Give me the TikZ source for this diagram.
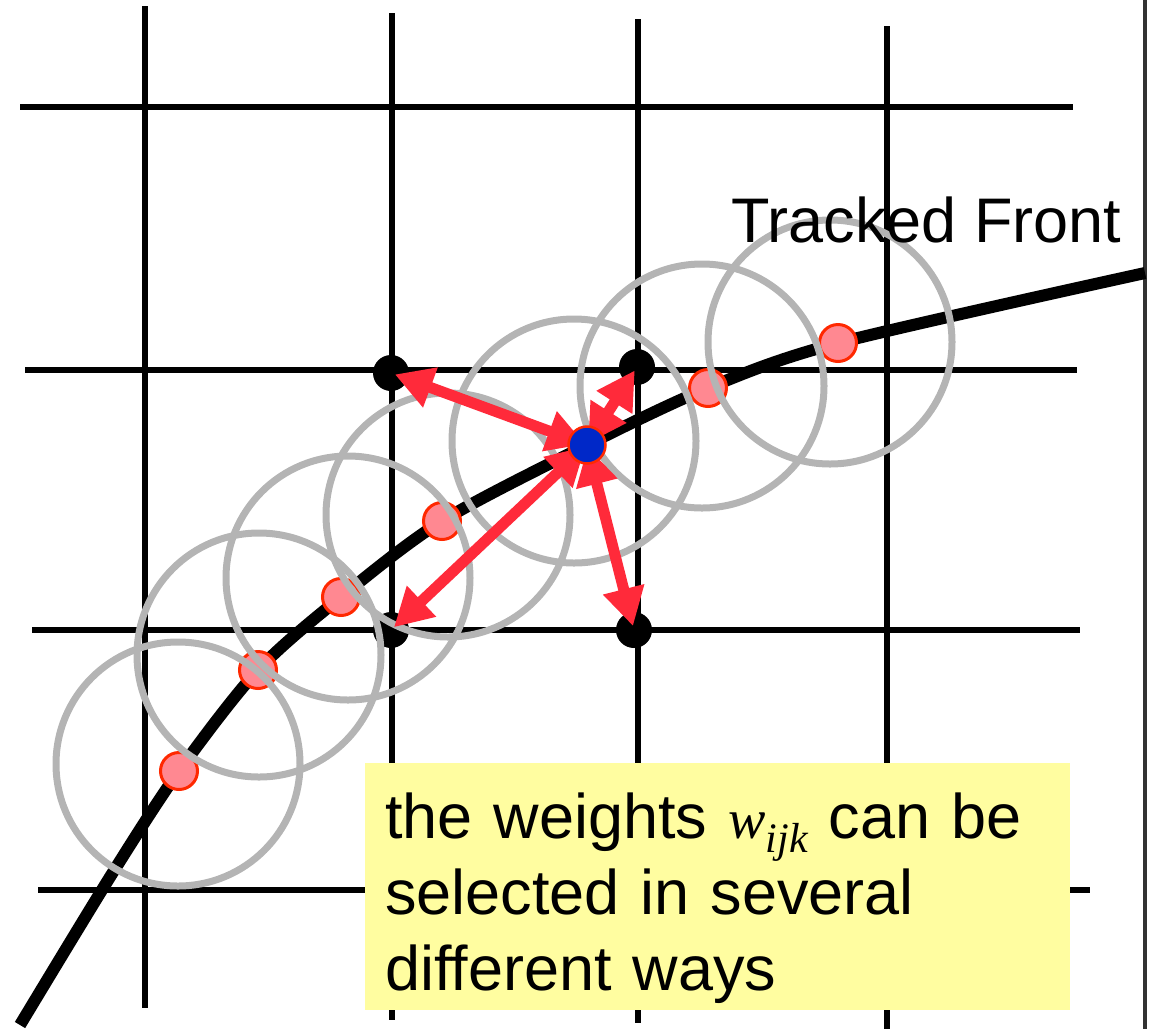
\documentclass[tikz,border=0pt]{standalone}
\usepackage{fontspec}
\setmainfont{Liberation Sans}
\newfontfamily\timesfont{Liberation Serif}
\usetikzlibrary{arrows.meta}

\definecolor{ringgray}{RGB}{180,180,180}
\definecolor{ptpink}{RGB}{255,136,145}
\definecolor{ptred}{RGB}{255,40,0}
\definecolor{arrred}{RGB}{255,42,58}
\definecolor{ptblue}{RGB}{0,40,200}
\definecolor{noteyellow}{RGB}{255,253,160}
\definecolor{edgegray}{RGB}{50,50,50}

\begin{document}
\begin{tikzpicture}[x=1pt,y=-1pt,
  gridline/.style={line width=6pt},
  gridpt/.style={circle,fill=black,inner sep=0pt,minimum size=36pt},
  frontpt/.style={circle,fill=ptpink,draw=ptred,line width=3pt,inner sep=0pt,minimum size=37pt},
  ring/.style={draw=ringgray,line width=7pt},
  weight/.style={draw=arrred,line width=11pt,shorten <=2pt,shorten >=4pt,
    {Triangle[length=38pt,width=40pt]}-{Triangle[length=38pt,width=40pt]}},
  notebox/.style={fill=noteyellow,text width=665pt,inner xsep=20pt,inner ysep=0pt,
    align=left,font=\fontsize{63}{76}\selectfont}]
\useasboundingbox (0,0) rectangle (1154,1029);

% grid
\foreach \y/\xa/\xb in {107/20/1073, 370/25/1077, 630/32/1080, 890/38/1090}
  \draw[gridline] (\xa,\y) -- (\xb,\y);
\foreach \x/\ya/\yb in {145/6/1008, 392/13/1020, 638/19/1023, 887/26/1029}
  \draw[gridline] (\x,\ya) -- (\x,\yb);
\draw[edgegray,line width=4.5pt] (1145,0) -- (1145,1029);

% grid points used by the blue point
\node[gridpt] (g1) at (391,373) {};
\node[gridpt] (g2) at (637,367) {};
\node[gridpt] (g3) at (391,630) {};
\node[gridpt] (g4) at (634,630) {};

% tracked front
\coordinate (f1) at (179,771);
\coordinate (f2) at (258,670);
\coordinate (f3) at (341,597);
\coordinate (f4) at (442,521);
\coordinate (fq) at (587,445);
\coordinate (f5) at (708,388);
\coordinate (f6) at (838,343);
\draw[line width=12pt] plot[smooth] coordinates {(20,1025) (110,877) (f1) (f2) (f3) (f4) (fq) (f5) (f6) (1145,273)};
\foreach \i in {1,...,6}
  \node[frontpt] (p\i) at (f\i) {};

% support circles
\foreach \cx/\cy in {178/764, 259/655, 348/578, 448/515, 574/441, 702/386, 830/342}
  \draw[ring] (\cx,\cy) circle[radius=122pt];

% weights to the grid
\foreach \g in {g1,g2,g3,g4}
  \draw[weight] (fq) -- (\g.center);
\node[circle,fill=ptblue,draw=ptred,line width=2.5pt,inner sep=0pt,minimum size=37pt] (q) at (fq) {};

\node[anchor=base west,font=\fontsize{63}{63}\selectfont] (front) at (728,242) {Tracked Front};

\node[notebox,anchor=north west] (note) at (365,763)
  {\rule{0pt}{75pt}the weights {\timesfont\itshape\fontsize{56}{56}\selectfont w\raisebox{-14pt}{\fontsize{42}{42}\selectfont ijk}} can be\\
   selected in several\\
   different ways\rule[-20pt]{0pt}{20pt}};
\end{tikzpicture}
\end{document}
